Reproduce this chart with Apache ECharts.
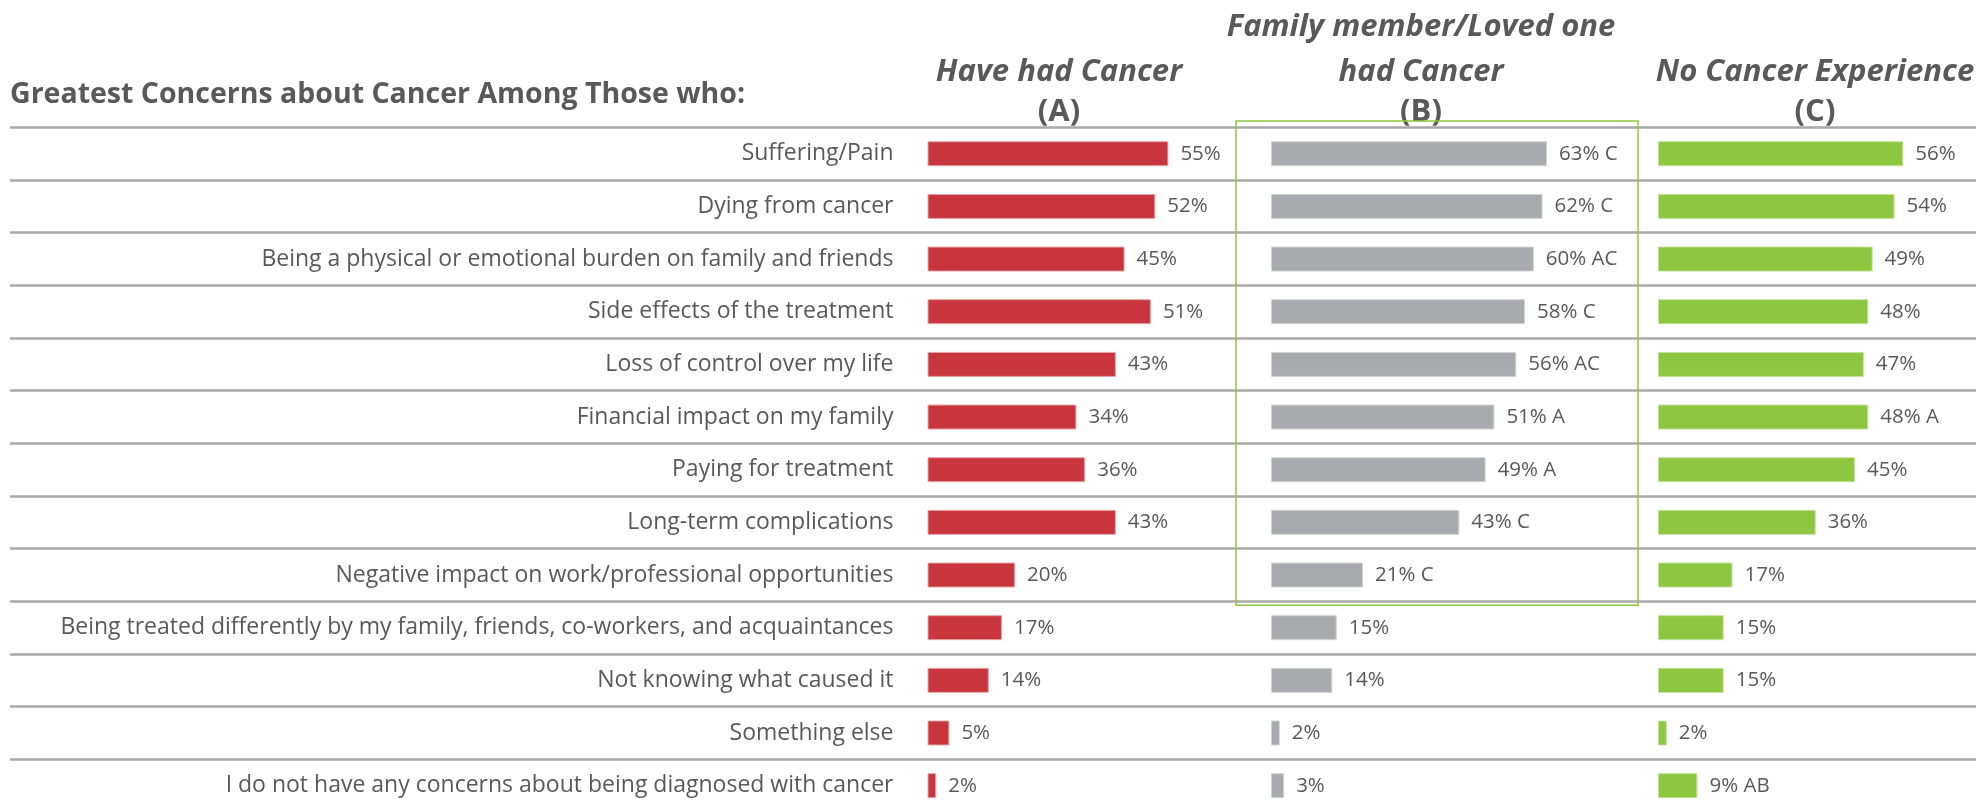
<!DOCTYPE html>
<html>
<head>
<meta charset="utf-8">
<script src="https://cdn.jsdelivr.net/npm/echarts@6/dist/echarts.min.js"></script>
<style>
  html, body { margin: 0; padding: 0; background: #fff; overflow: hidden; }
  /* a few px taller than the window: the last row runs past the bottom edge */
  #main { width: 1976px; height: 812px; }
</style>
</head>
<body>
<div id="main"></div>
<script>
// data
var categories = [
  "Suffering/Pain",
  "Dying from cancer",
  "Being a physical or emotional burden on family and friends",
  "Side effects of the treatment",
  "Loss of control over my life",
  "Financial impact on my family",
  "Paying for treatment",
  "Long-term complications",
  "Negative impact on work/professional opportunities",
  "Being treated differently by my family, friends, co-workers, and acquaintances",
  "Not knowing what caused it",
  "Something else",
  "I do not have any concerns about being diagnosed with cancer"
];
var haveHadCancer = [55, 52, 45, 51, 43, 34, 36, 43, 20, 17, 14, 5, 2];
var familyHadCancer = [63, 62, 60, 58, 56, 51, 49, 43, 21, 15, 14, 2, 3];
var noCancer = [56, 54, 49, 48, 47, 48, 45, 36, 17, 15, 15, 2, 9];
// significance letters next to the percentages
var haveSig = ["", "", "", "", "", "", "", "", "", "", "", "", ""];
var familySig = ["C", "C", "AC", "C", "AC", "A", "A", "C", "C", "", "", "", ""];
var noCancerSig = ["", "", "", "", "", "A", "", "", "", "", "", "", "AB"];

var textColor = "#595959";
var font = "Open Sans";
var rowsTop = 127.4;
var panelWidth = 306.6; // 70 points of scale
var panelLefts = [927.5, 1271, 1658];

var myChart = echarts.init(document.getElementById("main"));

function makeLabel(sig) {
  return {
    show: true,
    position: "right",
    distance: 12,
    color: textColor,
    fontSize: 20.5,
    fontFamily: font,
    formatter: function (p) {
      return p.value + "%" + (sig[p.dataIndex] ? " " + sig[p.dataIndex] : "");
    }
  };
}

function panelGrid(left) {
  return { left: left, width: panelWidth, top: rowsTop, bottom: 0 };
}

function valueAxis(gridIndex) {
  return { type: "value", gridIndex: gridIndex, min: 0, max: 70, show: false };
}

function catAxis(gridIndex, extra) {
  var ax = {
    type: "category",
    gridIndex: gridIndex,
    data: categories,
    inverse: true,
    axisLine: { show: false },
    axisTick: { show: false },
    axisLabel: { show: false },
    splitLine: { show: false }
  };
  for (var k in extra) ax[k] = extra[k];
  return ax;
}

function headerText(id, txt, x, y, italic) {
  return {
    id: id,
    type: "text",
    x: x,
    y: y,
    z: 5,
    style: {
      text: txt,
      font: (italic ? "italic " : "") + "bold 31px 'Open Sans'",
      fill: textColor,
      textAlign: "center",
      textVerticalAlign: "middle"
    }
  };
}

var option = {
  animation: false,
  grid: [
    // full-width grid only for the row separators
    { left: 10, right: 0, top: rowsTop, bottom: 0 },
    panelGrid(panelLefts[0]),
    panelGrid(panelLefts[1]),
    panelGrid(panelLefts[2])
  ],
  xAxis: [valueAxis(0), valueAxis(1), valueAxis(2), valueAxis(3)],
  yAxis: [
    catAxis(0, {
      splitLine: { show: true, interval: 0, lineStyle: { color: "#a8a8a8", width: 2.5 } }
    }),
    catAxis(1, {
      axisLabel: {
        show: true,
        interval: 0,
        margin: 34,
        color: textColor,
        fontSize: 23,
        fontFamily: font
      }
    }),
    catAxis(2, {}),
    catAxis(3, {})
  ],
  series: [
    {
      name: "Have had Cancer (A)",
      type: "bar",
      xAxisIndex: 1,
      yAxisIndex: 1,
      barWidth: 25,
      itemStyle: { color: "#c8353c", borderColor: "#e6a4a7", borderWidth: 1 },
      label: makeLabel(haveSig),
      data: haveHadCancer
    },
    {
      name: "Family member/Loved one had Cancer (B)",
      type: "bar",
      xAxisIndex: 2,
      yAxisIndex: 2,
      barWidth: 25,
      itemStyle: { color: "#a9aaad", borderColor: "#d2d3d5", borderWidth: 1 },
      label: makeLabel(familySig),
      data: familyHadCancer
    },
    {
      name: "No Cancer Experience (C)",
      type: "bar",
      xAxisIndex: 3,
      yAxisIndex: 3,
      barWidth: 25,
      itemStyle: { color: "#8dc63f", borderColor: "#c2e29a", borderWidth: 1 },
      label: makeLabel(noCancerSig),
      data: noCancer
    }
  ],
  graphic: [
    {
      id: "title",
      type: "text",
      x: 10,
      y: 94.5,
      style: {
        text: "Greatest Concerns about Cancer Among Those who:",
        font: "bold 28.5px 'Open Sans'",
        fill: textColor,
        textVerticalAlign: "middle"
      }
    },
    headerText("hA1", "Have had Cancer", 1059, 72, true),
    headerText("hA2", "(A)", 1059, 112, false),
    headerText("hB1", "Family member/Loved one", 1421, 27, true),
    headerText("hB2", "had Cancer", 1421, 72, true),
    headerText("hB3", "(B)", 1421, 112, false),
    headerText("hC1", "No Cancer Experience", 1815, 72, true),
    headerText("hC2", "(C)", 1815, 112, false)
  ]
};

myChart.setOption(option);

// green outline around the B column for the first nine rows
var bandH = (812 - rowsTop) / categories.length;
var x0 = myChart.convertToPixel({ xAxisIndex: 2 }, 0);
var yFirst = myChart.convertToPixel({ yAxisIndex: 2 }, categories[0]) - bandH / 2;
var yLast = myChart.convertToPixel({ yAxisIndex: 2 }, categories[8]) + bandH / 2;
myChart.setOption({
  graphic: [
    {
      id: "boxB",
      type: "rect",
      z: 10,
      shape: {
        x: x0 - 35,
        y: yFirst - 6.5,
        width: 402,
        height: yLast - yFirst + 10.5
      },
      style: { fill: "none", stroke: "#8dc63f", lineWidth: 1.5 }
    }
  ]
});
</script>
</body>
</html>
